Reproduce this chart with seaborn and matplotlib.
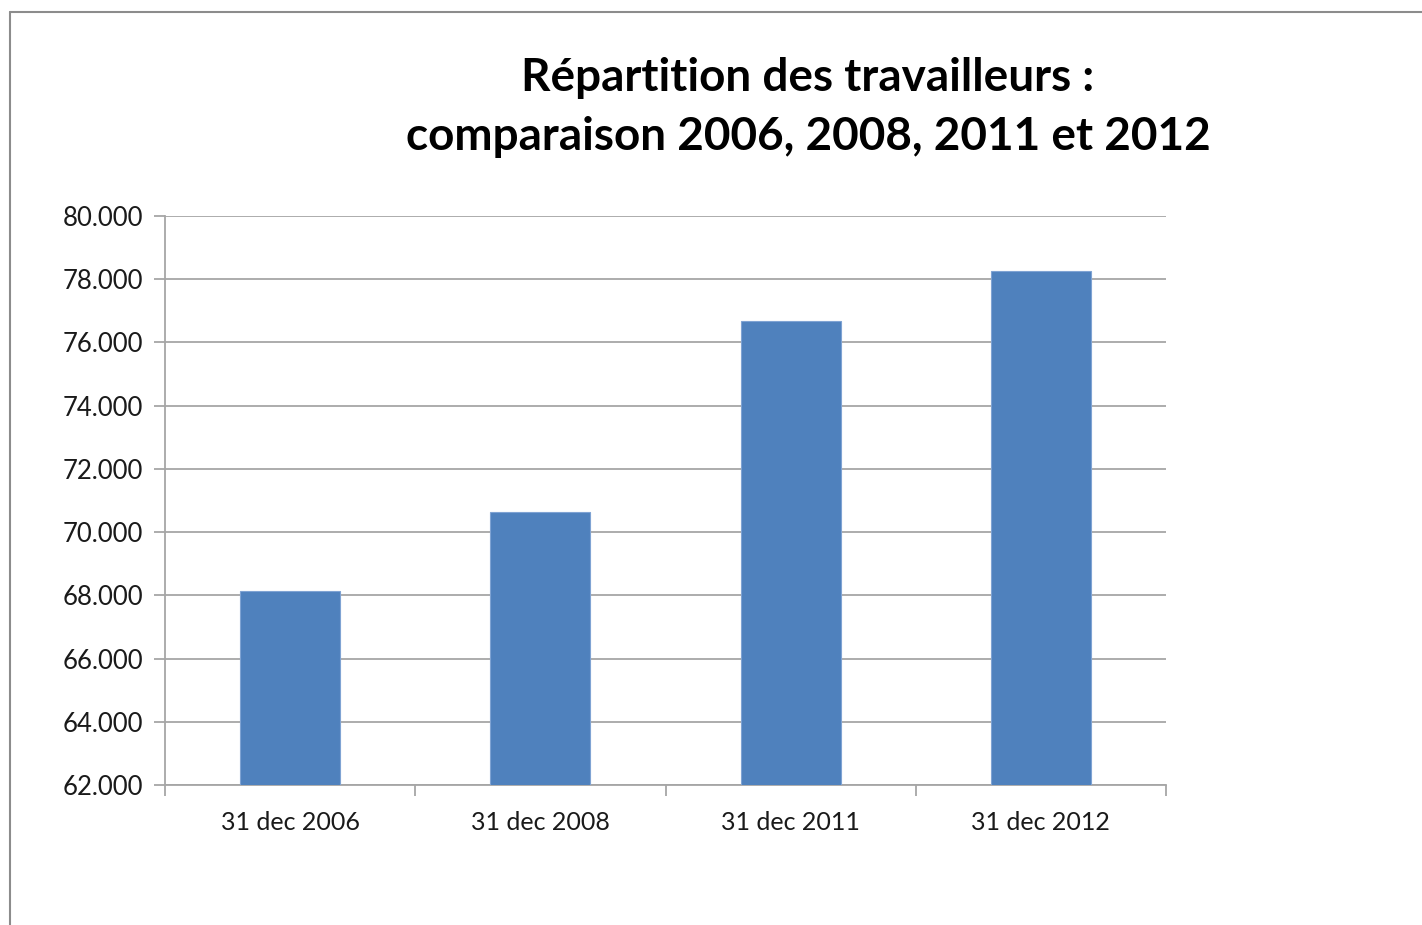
import numpy as np
import pandas as pd
import matplotlib
matplotlib.use("Agg")
import matplotlib.pyplot as plt
import matplotlib.ticker as mticker
from matplotlib.lines import Line2D
import seaborn as sns

# data
categories = ["31 dec 2006", "31 dec 2008", "31 dec 2011", "31 dec 2012"]
workers = [68130, 70630, 76675, 78250]

df = pd.DataFrame({"date": categories, "workers": workers})

sns.set_theme(style="white")
plt.rcParams["font.family"] = ["Lato", "DejaVu Sans"]

fig = plt.figure(figsize=(14.22, 9.25), dpi=100)
ax = fig.add_axes([165 / 1422, 140 / 925, 1001 / 1422, 569 / 925])

sns.barplot(data=df, x="date", y="workers", color="#4F81BD", saturation=1,
            width=0.4, ax=ax, zorder=3)
for p in ax.patches:
    p.set_edgecolor("#7FA3D3")
    p.set_linewidth(0.8)

ax.set_ylim(62000, 80000)
ax.set_xlim(-0.5, 3.5)
ax.yaxis.set_major_locator(mticker.MultipleLocator(2000))
ax.yaxis.set_major_formatter(
    mticker.FuncFormatter(lambda v, _: f"{v:,.0f}".replace(",", ".")))
ax.grid(axis="y", color="#A6A6A6", linewidth=1.3, zorder=0)
ax.set_axisbelow(True)

for s in ["top", "right"]:
    ax.spines[s].set_visible(False)
for s in ["left", "bottom"]:
    ax.spines[s].set_color("#A6A6A6")
    ax.spines[s].set_linewidth(1.3)

ax.tick_params(axis="y", which="major", left=True, length=8, width=1.3,
               color="#A6A6A6", labelsize=18.5, labelcolor="#1a1a1a", pad=8)
ax.tick_params(axis="x", which="major", bottom=False, labelsize=18,
               labelcolor="#1a1a1a", pad=13)
ax.set_xticks(np.arange(-0.5, 4, 1), minor=True)
ax.tick_params(axis="x", which="minor", bottom=True, length=8, width=1.3,
               color="#A6A6A6")
ax.set_xlabel("")
ax.set_ylabel("")

fig.text(808 / 1422, 1 - 78 / 925, "Répartition des travailleurs :",
         ha="center", va="center", fontsize=33, fontweight="bold", color="black")
fig.text(808 / 1422, 1 - 137 / 925, "comparaison 2006, 2008, 2011 et 2012",
         ha="center", va="center", fontsize=33, fontweight="bold", color="black")

# outer chart frame (left and top edges visible)
fig.add_artist(Line2D([10 / 1422, 10 / 1422], [0, 1 - 12 / 925],
                      transform=fig.transFigure, color="#8C8C8C", linewidth=1.5))
fig.add_artist(Line2D([10 / 1422, 1], [1 - 12 / 925, 1 - 12 / 925],
                      transform=fig.transFigure, color="#8C8C8C", linewidth=1.5))

fig.savefig("out.png", dpi=100, facecolor="white")
